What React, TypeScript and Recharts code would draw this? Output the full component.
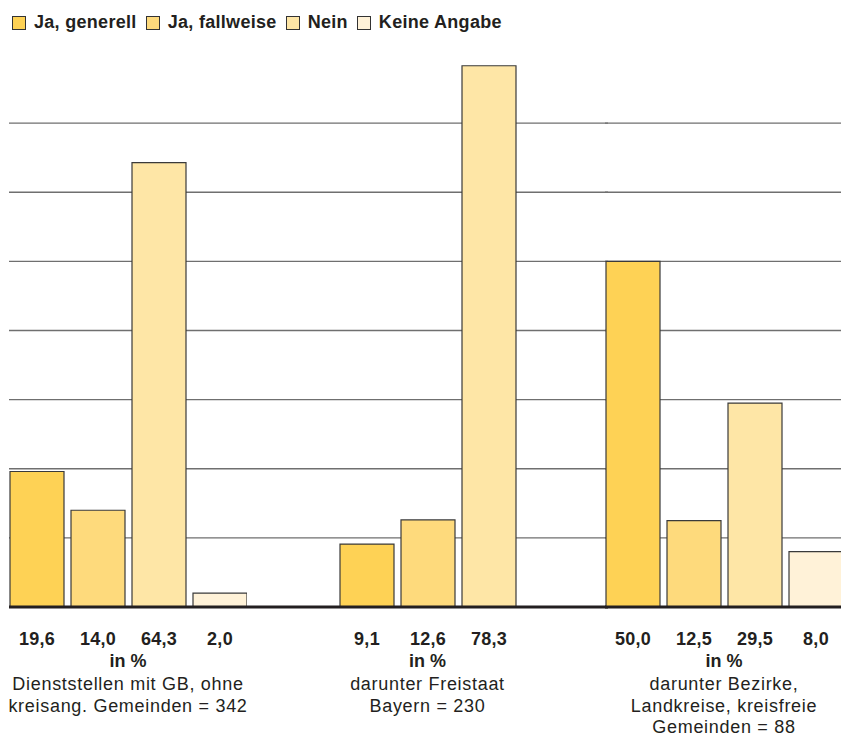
import { BarChart, Bar, XAxis, YAxis, CartesianGrid, LabelList } from 'recharts';

const seriesNames = ['Ja, generell', 'Ja, fallweise', 'Nein', 'Keine Angabe'];
const seriesKeys = ['generell', 'fallweise', 'nein', 'keine'];
const colors = ['#FED255', '#FEDA7C', '#FEE6A6', '#FFF2D8'];

const groups = ['gesamt', 'freistaat', 'kommunal'];
const groupLabels = [
  ['Dienststellen mit GB, ohne', 'kreisang. Gemeinden = 342'],
  ['darunter Freistaat', 'Bayern = 230'],
  ['darunter Bezirke,', 'Landkreise, kreisfreie', 'Gemeinden = 88'],
];

const generell = [19.6, 9.1, 50.0];
const fallweise = [14.0, 12.6, 12.5];
const nein = [64.3, 78.3, 29.5];
const keine = [2.0, null, 8.0];

const yTicks = [10, 20, 30, 40, 50, 60, 70];

const seriesValues: Record<string, (number | null)[]> = { generell, fallweise, nein, keine };

// layout of the three panels (left edge, width) - adjacent so grid lines run through
const panels = [
  { left: 9, width: 238 },
  { left: 247, width: 361 },
  { left: 605, width: 238 },
];

const HEIGHT = 738;
const TOP = 54;
const AXIS_H = 131;
const INK = '#231f20';
const FONT = '"Liberation Sans", Arial, sans-serif';

const fmt = (v: number) => v.toFixed(1).replace('.', ',');

function ValueLabel(props: any) {
  const { x, y, width, height, value } = props;
  if (value == null) return null;
  return (
    <text x={x + width / 2} y={y + height + 38} textAnchor="middle" fontFamily={FONT} fontSize={18} fontWeight="bold" letterSpacing={0.3} fill={INK}>
      {fmt(value)}
    </text>
  );
}

function GroupTick(props: any, lines: string[]) {
  const { x, y } = props;
  return (
    <g>
      <text x={x} y={y + 60} textAnchor="middle" fontFamily={FONT} fontSize={18} fontWeight="bold" fill={INK}>
        in %
      </text>
      {lines.map((l, i) => (
        <text key={i} x={x} y={y + 83 + i * 21.5} textAnchor="middle" fontFamily={FONT} fontSize={18} letterSpacing={0.7} fill={INK}>
          {l}
        </text>
      ))}
    </g>
  );
}

export default function App() {
  return (
    <div style={{ position: 'fixed', left: 0, top: 0, width: 841, height: HEIGHT, overflow: 'hidden', background: '#fff' }}>
      <div style={{ position: 'absolute', left: 12, top: 12, display: 'flex', alignItems: 'center', fontFamily: FONT, fontSize: 18, fontWeight: 'bold', letterSpacing: 0.3, color: INK, whiteSpace: 'nowrap' }}>
        {seriesNames.map((n, i) => (
          <div key={n} style={{ display: 'flex', alignItems: 'center', marginRight: 9 }}>
            <span style={{ display: 'inline-block', width: 12, height: 12, background: colors[i], border: '1.5px solid #333', marginRight: 8 }} />
            <span>{n}</span>
          </div>
        ))}
      </div>
      {groups.map((g, gi) => {
        const row: any = { name: g };
        seriesKeys.forEach(k => { row[k] = seriesValues[k][gi]; });
        const keys = seriesKeys.filter(k => seriesValues[k][gi] != null);
        return (
          <div key={g} style={{ position: 'absolute', left: panels[gi].left, top: 0 }}>
            <BarChart width={panels[gi].width} height={HEIGHT} data={[row]} margin={{ top: TOP, right: 0, bottom: 0, left: 0 }} barSize={54} barGap={7}>
              <CartesianGrid horizontal vertical={false} horizontalValues={yTicks} stroke="#6f6f6f" strokeWidth={1.4} />
              <YAxis hide domain={[0, 80]} ticks={yTicks} />
              <XAxis
                dataKey="name"
                height={AXIS_H}
                axisLine={{ stroke: INK, strokeWidth: 3 }}
                tickLine={false}
                tickSize={0}
                tickMargin={0}
                interval={0}
                tick={(p: any) => GroupTick(p, groupLabels[gi])}
              />
              {keys.map(k => {
                const si = seriesKeys.indexOf(k);
                return (
                  <Bar key={k} dataKey={k} name={seriesNames[si]} fill={colors[si]} stroke="#3a3a3a" strokeWidth={1.2} isAnimationActive={false}>
                    <LabelList dataKey={k} content={ValueLabel} />
                  </Bar>
                );
              })}
            </BarChart>
          </div>
        );
      })}
    </div>
  );
}
